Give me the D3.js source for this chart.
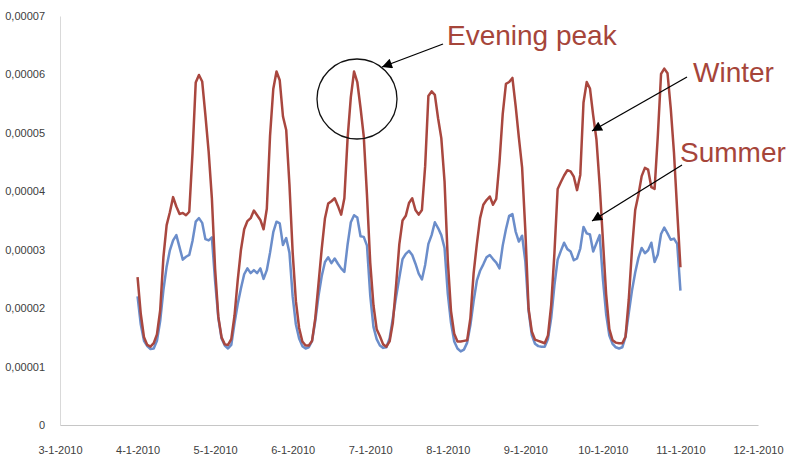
<!DOCTYPE html>
<html><head><meta charset="utf-8">
<script src="https://cdn.jsdelivr.net/npm/d3@7/dist/d3.min.js"></script>
<style>body{margin:0;background:#fff} svg{display:block}</style>
</head><body><svg id="c" width="788" height="458"></svg>
<script>
// x-axis category labels (month starts)
const monthLabels = ["3-1-2010","4-1-2010","5-1-2010","6-1-2010","7-1-2010","8-1-2010","9-1-2010","10-1-2010","11-1-2010","12-1-2010"];
// y ticks, values in units of 1e-6
const yTickValues = [0,10,20,30,40,50,60,70];
const yTickLabels = ["0","0,00001","0,00002","0,00003","0,00004","0,00005","0,00006","0,00007"];
// series values (units of 1e-6), hourly samples, 7 cycles, starting at 4-1-2010
const winter = [
25.3,19.0,15.0,13.7,13.4,14.0,15.5,19.6,28.7,34.2,36.4,39.0,37.4,36.1,36.3,35.9,36.5,46.5,58.6,59.9,58.8,53.0,46.8,38.8,
26.7,18.5,15.0,13.8,13.7,14.7,18.7,24.8,30.0,33.5,34.9,35.4,36.7,35.9,35.1,33.5,37.0,49.5,57.5,60.5,59.0,52.8,50.5,41.2,
29.5,21.2,16.6,14.3,13.6,13.6,14.4,18.3,24.2,30.2,35.4,37.9,38.3,38.8,37.5,36.0,38.8,49.1,56.1,60.5,58.7,54.3,49.4,39.3,
27.8,20.5,16.4,15.2,13.8,13.4,14.3,17.5,23.9,30.9,35.0,35.8,38.0,38.8,36.8,36.0,36.8,44.3,56.3,57.1,56.5,52.5,49.1,41.7,
28.2,19.5,15.6,14.3,14.3,14.4,14.5,18.3,26.0,31.0,35.4,37.7,38.5,39.1,37.7,38.7,45.0,53.2,58.4,58.7,59.4,54.6,49.2,44.1,
33.3,19.9,16.0,14.6,14.4,14.2,14.0,15.3,20.5,29.4,40.4,41.6,42.7,43.6,43.4,42.5,40.2,42.8,55.2,58.7,57.6,53.0,48.9,41.1,
31.7,22.4,16.4,14.5,14.1,14.0,14.0,15.1,21.4,30.0,36.8,39.4,42.6,44.0,43.7,40.7,40.4,49.5,60.1,61.0,60.2,54.2,46.6,36.6,
27.0];
const summer = [
22.0,17.2,14.4,13.5,13.0,13.1,14.4,17.8,23.1,27.1,29.9,31.6,32.5,30.4,28.3,28.8,29.1,31.5,34.8,35.4,34.6,31.8,31.6,32.1,
24.6,18.3,14.8,13.6,13.1,13.7,17.4,20.7,23.4,25.8,26.8,26.0,26.5,26.0,26.8,25.0,26.5,29.5,33.0,34.8,34.5,30.8,32.0,29.5,
22.0,17.2,14.8,13.5,13.1,13.3,14.4,17.8,22.1,25.5,27.9,28.7,27.7,28.5,27.6,26.8,26.2,30.9,34.7,35.9,35.5,32.3,32.2,30.7,
22.2,16.8,14.7,13.6,13.2,13.3,14.8,18.3,21.9,25.2,28.4,29.3,29.8,29.1,27.6,25.9,24.9,27.4,31.0,32.5,34.7,33.7,32.5,30.3,
22.5,17.5,14.3,13.1,12.6,12.9,14.1,17.1,21.2,24.7,26.4,27.5,28.7,29.1,28.4,27.8,26.8,30.7,33.5,35.8,36.1,33.1,31.4,32.4,
28.0,19.6,15.4,13.9,13.5,13.4,13.4,14.7,18.3,23.9,28.3,29.8,31.2,30.1,29.7,28.2,28.5,30.2,33.9,32.8,32.6,29.7,31.1,32.5,
25.0,19.0,15.3,13.9,13.3,13.1,13.3,15.1,19.1,23.0,26.1,28.6,30.3,29.4,29.9,31.2,27.9,29.2,32.7,33.8,32.8,31.7,31.9,31.0,
23.0];
const seriesStart = 1;      // index into monthLabels where the series begins
const samplesPerStep = 24;  // samples per category step

const svg = d3.select("#c");
const font = "'Liberation Sans', Arial, sans-serif";
const x = d3.scaleLinear().domain([0, monthLabels.length - 1]).range([60, 758]);
const y = d3.scaleLinear().domain([0, 70]).range([425, 16]);

// y axis
const ya = svg.append("g").attr("transform","translate(60,0)")
  .call(d3.axisLeft(y).tickValues(yTickValues).tickFormat((d,i)=>yTickLabels[i]).tickSize(0).tickPadding(15));
ya.select(".domain").attr("stroke","#d9d9d9").attr("stroke-width",1);
ya.selectAll("text").attr("font-family",font).attr("font-size",11).attr("fill","#404040");

// x axis
const xa = svg.append("g").attr("transform","translate(0,425)")
  .call(d3.axisBottom(x).tickValues(d3.range(monthLabels.length)).tickFormat(i=>monthLabels[i]).tickSize(0).tickPadding(21));
xa.select(".domain").attr("stroke","#c6c6c6").attr("stroke-width",1.2);
xa.selectAll("text").attr("font-family",font).attr("font-size",11).attr("fill","#404040");

const line = d3.line()
  .x((d,i)=>x(seriesStart + i/samplesPerStep))
  .y(d=>y(d));

svg.append("path").datum(summer).attr("d",line)
  .attr("fill","none").attr("stroke","#6b8dca").attr("stroke-width",2.5).attr("stroke-linejoin","round");
svg.append("path").datum(winter).attr("d",line)
  .attr("fill","none").attr("stroke","#a9473f").attr("stroke-width",2.5).attr("stroke-linejoin","round");

// annotations
const defs = svg.append("defs");
defs.append("marker").attr("id","ah").attr("viewBox","0 0 10 10").attr("refX",10).attr("refY",5)
  .attr("markerWidth",12).attr("markerHeight",10).attr("markerUnits","userSpaceOnUse").attr("orient","auto")
  .append("path").attr("d","M0,0L10,5L0,10Z").attr("fill","#000");

svg.append("circle").attr("cx",357).attr("cy",99).attr("r",40)
  .attr("fill","none").attr("stroke","#111").attr("stroke-width",1.3);

const arrows = [[443,44,382,67],[687,77,592,131],[682,165,592,221]];
svg.selectAll("line.arr").data(arrows).enter().append("line").attr("class","arr")
  .attr("x1",d=>d[0]).attr("y1",d=>d[1]).attr("x2",d=>d[2]).attr("y2",d=>d[3])
  .attr("stroke","#000").attr("stroke-width",1.3).attr("marker-end","url(#ah)");

const notes = [["Evening peak",447,45],["Winter",693,82],["Summer",680,162]];
svg.selectAll("text.note").data(notes).enter().append("text").attr("class","note")
  .attr("x",d=>d[1]).attr("y",d=>d[2]).text(d=>d[0])
  .attr("font-family",font).attr("font-size",28).attr("fill","#a6453a");
</script></body></html>
